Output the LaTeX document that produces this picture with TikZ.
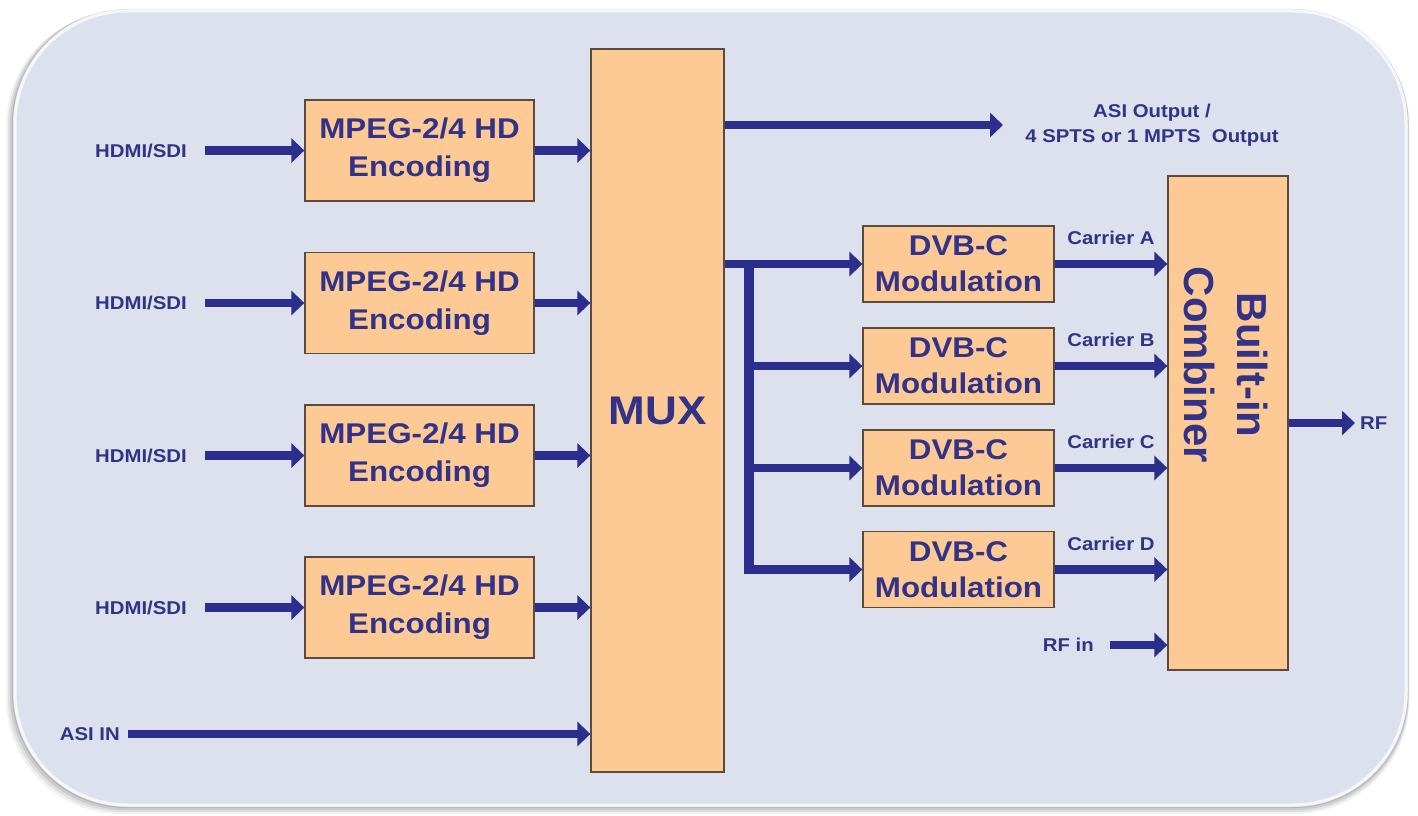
\documentclass[tikz,border=0pt]{standalone}
\usepackage{fontspec}
\setmainfont{Liberation Sans}
\newfontfamily\labfont[FakeStretch=1.1]{Liberation Sans}
\usetikzlibrary{arrows.meta}
\definecolor{panel}{RGB}{220,225,237}
\definecolor{boxfill}{RGB}{253,202,150}
\definecolor{boxline}{RGB}{90,75,60}
\definecolor{ink}{RGB}{50,50,135}
\definecolor{arrowc}{RGB}{44,46,142}
\begin{document}
\begin{tikzpicture}[x=1pt,y=-1pt,
  blk/.style={draw=boxline, line width=1.3pt, fill=boxfill, inner sep=0pt, text=ink, align=center, font=\labfont\bfseries\fontsize{28.5}{38}\selectfont},
  dvb/.style={blk, font=\labfont\bfseries\fontsize{28.5}{36}\selectfont},
  lbl/.style={text=ink, inner sep=0pt, font=\labfont\bfseries\fontsize{18.5}{25}\selectfont},
  arr/.style={draw=arrowc, line width=8.5pt, -{Triangle[length=13pt,width=24pt]}},
  trunk/.style={draw=arrowc, line width=10pt}
]
\useasboundingbox (0,0) rectangle (1418,816);
\fill[white] (0,0) rectangle (1418,816);
% shadow
\foreach \i/\o in {7/0.05,5/0.07,3/0.09,1/0.1}
  \fill[black,opacity=\o,rounded corners=115pt] (13-\i,9+\i*0.3) rectangle (1408+\i*0.2,807+\i);
% panel
\fill[panel, rounded corners=115pt] (13,9) rectangle (1408,807);
\draw[white, opacity=0.75, line width=3pt, rounded corners=113pt] (15,11) rectangle (1406,805);

% encoders
\foreach \n/\y in {1/150.5,2/303,3/455.5,4/607.5}{
  \node[blk, minimum width=229pt, minimum height=101pt] (e\n) at (419.5,\y) {MPEG-2/4 HD\\Encoding};
  \node[lbl, anchor=east] (h\n) at (187,\y) {HDMI/SDI};
}
% MUX
\node[blk, minimum width=133pt, minimum height=723pt, font=\labfont\bfseries\fontsize{40}{48}\selectfont] (mux) at (657.5,410.5) {MUX};
\foreach \n in {1,2,3,4}{
  \draw[arr] ([xshift=18pt]h\n.east) -- (e\n.west);
  \draw[arr] (e\n.east) -- (e\n.east -| mux.west);
}
% ASI IN
\node[lbl, anchor=east] (asi) at (120,734) {ASI IN};
\draw[arr] ([xshift=8pt]asi.east) -- (asi.east -| mux.west);

% ASI output
\coordinate (ao) at (1003,125);
\draw[arr] (ao -| mux.east) -- (ao);
\node[lbl, align=center] (aol) at (1152,125) {ASI Output /\\4 SPTS or 1 MPTS~~Output};

% DVB-C modulators
\foreach \n/\y in {1/264,2/366,3/468,4/569.5}{
  \node[dvb, minimum width=191pt, minimum height=76pt] (d\n) at (958.5,\y) {DVB-C\\Modulation};
}
\coordinate (j) at (749,264);
\coordinate (j4) at (j |- d4.west);
\draw[arr] (d1.west -| mux.east) -- (d1.west);
\draw[trunk] (j) -- ([yshift=-4.25pt]j4);
\draw[arr] ([xshift=-5pt]j4) -- (d4.west);
\draw[arr] (j |- d2.west) -- (d2.west);
\draw[arr] (j |- d3.west) -- (d3.west);

% combiner
\node[blk, minimum width=120pt, minimum height=494pt] (comb) at (1228,423) {};
\node[text=ink, rotate=-90, align=center, inner sep=0pt, font=\bfseries\fontsize{42}{53}\selectfont] (combt) at (1226,365) {Built-in\\Combiner};

\foreach \n/\t/\ly in {1/A/238,2/B/340,3/C/442,4/D/544}{
  \draw[arr] (d\n.east) -- (d\n.east -| comb.west);
  \node[lbl] (c\n) at (1111,\ly) {Carrier \t};
}
\node[lbl, anchor=east] (rfin) at (1094,645) {RF in};
\draw[arr] ([xshift=16pt]rfin.east) -- (rfin.east -| comb.west);
\node[lbl, anchor=west] (rf) at (1360,423) {RF};
\draw[arr] (comb.east) -- ([xshift=-5pt]rf.west);
\end{tikzpicture}
\end{document}
